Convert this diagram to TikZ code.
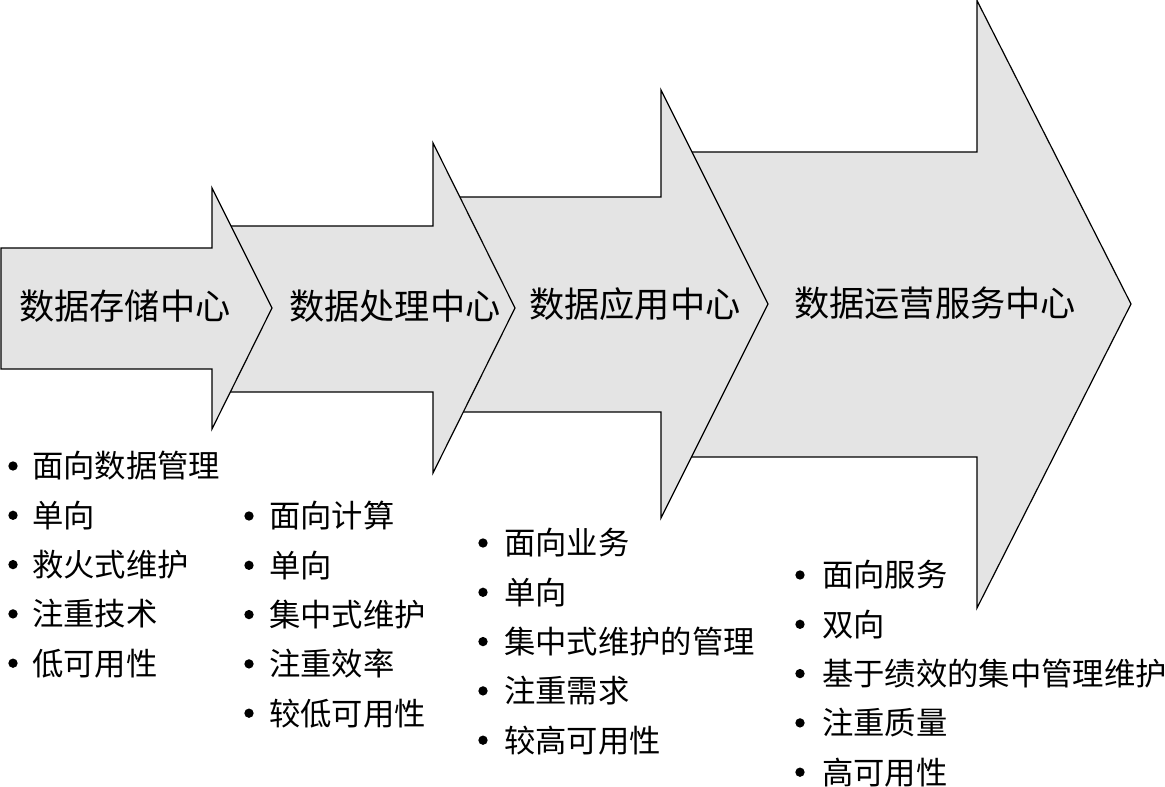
\documentclass[tikz,border=0pt]{standalone}
\usepackage{fontspec}
\newfontfamily\cjk{Noto Sans CJK SC}
\definecolor{arrowgray}{RGB}{228,228,228}
\begin{document}
\begin{tikzpicture}[x=0.75pt,y=-0.75pt,
  arr/.style={draw=black,fill=arrowgray,line width=0.9pt,line join=miter},
  title/.style={anchor=west,inner sep=0pt,font=\cjk\fontsize{26.4}{26.4}\selectfont},
  item/.style={anchor=west,inner sep=0pt,font=\cjk\fontsize{23.5}{23.5}\selectfont},
  dot/.style={circle,fill=black,inner sep=0pt,minimum size=7pt}]
\useasboundingbox (0,0) rectangle (1165,787);
% arrows, back to front
\draw[arr] (665,152) -- (977,152) -- (977,0.6) -- (1131,304) -- (977,608) -- (977,457) -- (665,457) -- cycle;
\draw[arr] (440,197) -- (661,197) -- (661,90) -- (768,304) -- (661,518) -- (661,412) -- (440,412) -- cycle;
\draw[arr] (215,226) -- (433,226) -- (433,143) -- (515,308) -- (433,473) -- (433,392) -- (215,392) -- cycle;
\draw[arr] (1,248) -- (212,248) -- (212,188) -- (272,308) -- (212,429) -- (212,369) -- (1,369) -- cycle;
% titles
\node[title] (t1) at (19,306) {数据存储中心};
\node[title] (t2) at (289,306) {数据处理中心};
\node[title] (t3) at (529,304) {数据应用中心};
\node[title] (t4) at (794,303) {数据运营服务中心};
% lists
\foreach \t [count=\i] in {面向数据管理,单向,救火式维护,注重技术,低可用性}{
  \node[dot] (da\i) at (13,{466+49.3*(\i-1)}) {};
  \node[item] (ia\i) at (32,{466+49.3*(\i-1)}) {\t};}
\foreach \t [count=\i] in {面向计算,单向,集中式维护,注重效率,较低可用性}{
  \node[dot] (db\i) at (249,{516+49.3*(\i-1)}) {};
  \node[item] (ib\i) at (269,{516+49.3*(\i-1)}) {\t};}
\foreach \t [count=\i] in {面向业务,单向,集中式维护的管理,注重需求,较高可用性}{
  \node[dot] (dc\i) at (483,{543+49.3*(\i-1)}) {};
  \node[item] (ic\i) at (504,{543+49.3*(\i-1)}) {\t};}
\foreach \t [count=\i] in {面向服务,双向,基于绩效的集中管理维护,注重质量,高可用性}{
  \node[dot] (dd\i) at (800,{575+49.3*(\i-1)}) {};
  \node[item] (id\i) at (822,{575+49.3*(\i-1)}) {\t};}
\end{tikzpicture}
\end{document}
